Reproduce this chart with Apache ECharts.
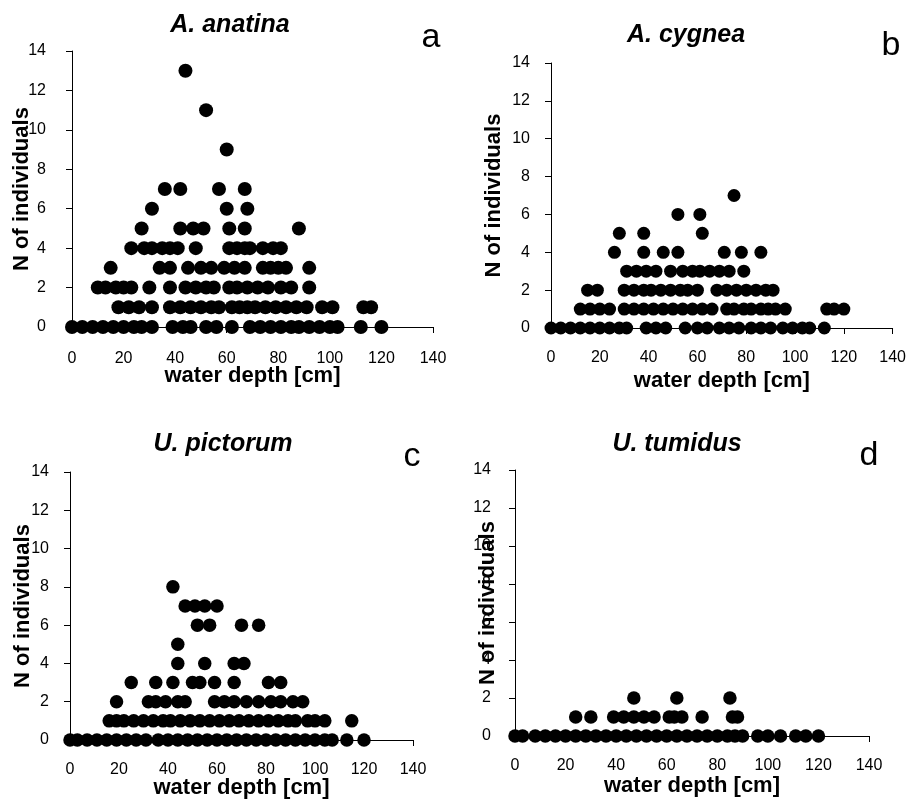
<!DOCTYPE html>
<html>
<head>
<meta charset="utf-8">
<script src="https://cdn.jsdelivr.net/npm/echarts@6/dist/echarts.min.js"></script>
<style>
  html, body { margin: 0; padding: 0; background: #fff; }
  #chart { width: 909px; height: 801px; }
</style>
</head>
<body>
<div id="chart"></div>
<script>
// water depth [cm] of each sample, grouped by N of individuals (index = N)
const anatinaDepths = [
  [0, 4, 8, 12, 16, 20, 24, 27, 31, 39, 43, 46, 52, 56, 62, 69, 73, 77, 81, 85, 88, 92, 96, 100, 103, 112, 120],
  [18, 22, 26, 31, 38, 42, 46, 50, 54, 57, 62, 65, 68, 71, 75, 79, 83, 87, 91, 97, 101, 113, 116],
  [10, 13, 17, 20, 23, 30, 38, 44, 48, 52, 55, 61, 64, 68, 72, 76, 81, 85, 92],
  [15, 34, 38, 45, 50, 54, 59, 63, 67, 74, 77, 80, 83, 92],
  [23, 28, 31, 35, 38, 41, 48, 61, 64, 67, 69, 74, 78, 81],
  [27, 42, 47, 51, 61, 67, 88],
  [31, 60, 68],
  [36, 42, 57, 67],
  [],
  [60],
  [],
  [52],
  [],
  [44]
]
const cygneaDepths = [
  [0, 4, 8, 12, 16, 20, 24, 28, 31, 39, 43, 47, 55, 60, 64, 69, 73, 77, 82, 86, 90, 95, 99, 103, 106, 112],
  [12, 16, 20, 24, 30, 34, 38, 42, 46, 50, 54, 58, 62, 66, 72, 75, 79, 82, 86, 89, 92, 96, 113, 116, 120],
  [15, 19, 30, 34, 38, 41, 45, 49, 53, 56, 60, 68, 72, 76, 80, 84, 88, 91],
  [31, 35, 39, 43, 49, 54, 58, 61, 65, 69, 73, 79],
  [26, 38, 46, 52, 71, 78, 86],
  [28, 38, 62],
  [52, 61],
  [75]
]
const pictorumDepths = [
  [0, 3, 7, 11, 15, 19, 23, 27, 31, 36, 40, 44, 48, 52, 56, 60, 64, 68, 72, 76, 80, 84, 88, 92, 96, 100, 104, 107, 113, 120],
  [16, 19, 22, 26, 30, 34, 38, 41, 45, 49, 53, 57, 61, 65, 69, 73, 77, 81, 85, 89, 92, 97, 100, 104, 115],
  [19, 32, 35, 39, 44, 47, 59, 63, 67, 72, 77, 82, 86, 91, 95],
  [25, 35, 42, 50, 53, 59, 67, 81, 86],
  [44, 55, 67, 71],
  [44],
  [52, 57, 70, 77],
  [47, 51, 55, 60],
  [42]
]
const tumidusDepths = [
  [0, 3, 8, 12, 16, 20, 24, 28, 32, 36, 40, 44, 48, 52, 56, 60, 64, 68, 72, 76, 80, 84, 87, 90, 96, 100, 105, 111, 115, 120],
  [24, 30, 39, 43, 47, 51, 55, 61, 63, 66, 74, 86, 88],
  [47, 64, 85]
]

const species = ['A. anatina', 'A. cygnea', 'U. pictorum', 'U. tumidus']
const panelLetters = ['a', 'b', 'c', 'd']
const xName = 'water depth [cm]'
const yName = 'N of individuals'

const FONT = '"Liberation Sans", Arial, sans-serif'

function toPoints(rows) {
  const pts = []
  rows.forEach((depths, n) => {
    depths.forEach(d => pts.push([d, n]))
  })
  return pts
}

// layout of the four panels
const panels = [
  { data: anatinaDepths, grid: { left: 72, top: 51, width: 361, height: 276 }, yLabelMargin: 26, xLabelMargin: 24, xGap: 38, yGap: 39, size: 14, title: [230, 25], letter: [431, 38] },
  { data: cygneaDepths, grid: { left: 551, top: 63, width: 342, height: 265 }, yLabelMargin: 21, xLabelMargin: 22, xGap: 42, yGap: 46, size: 13, title: [686, 35], letter: [891, 46] },
  { data: pictorumDepths, grid: { left: 70, top: 472, width: 343, height: 268 }, yLabelMargin: 21, xLabelMargin: 22, xGap: 37, yGap: 36, size: 13.5, title: [223, 444], letter: [412, 457] },
  { data: tumidusDepths, grid: { left: 515, top: 470, width: 354, height: 266 }, yLabelMargin: 24, xLabelMargin: 22, xGap: 39, yGap: 16, size: 13.5, title: [677, 444], letter: [869, 456] }
]

const chart = echarts.init(document.getElementById('chart'), null, { renderer: 'canvas' })

const axisLine = { show: true, lineStyle: { color: '#000', width: 1 } }
const axisTick = { show: true, inside: false, length: 6, lineStyle: { color: '#000', width: 1 } }
const labelStyle = { color: '#000', fontSize: 16, fontFamily: FONT }
const nameStyle = { color: '#000', fontSize: 22, fontWeight: 'bold', fontFamily: FONT }

const graphics = []
panels.forEach((p, i) => {
  graphics.push({
    type: 'text',
    x: p.title[0],
    y: p.title[1],
    style: {
      text: species[i],
      fill: '#000',
      font: 'italic bold 25px ' + FONT,
      textAlign: 'center',
      textVerticalAlign: 'middle'
    }
  })
  graphics.push({
    type: 'text',
    x: p.letter[0],
    y: p.letter[1],
    style: {
      text: panelLetters[i],
      fill: '#000',
      font: '34px ' + FONT,
      textAlign: 'center',
      textVerticalAlign: 'middle'
    }
  })
})

chart.setOption({
  backgroundColor: '#fff',
  animation: false,
  grid: panels.map(p => Object.assign({ containLabel: false }, p.grid)),
  xAxis: panels.map((p, i) => ({
    gridIndex: i,
    type: 'value',
    min: 0,
    max: 140,
    interval: 20,
    name: xName,
    nameLocation: 'middle',
    nameGap: p.xGap,
    nameMoveOverlap: false,
    nameTextStyle: nameStyle,
    axisLine: axisLine,
    axisTick: axisTick,
    axisLabel: Object.assign({ margin: p.xLabelMargin }, labelStyle),
    splitLine: { show: false }
  })),
  yAxis: panels.map((p, i) => ({
    gridIndex: i,
    type: 'value',
    min: 0,
    max: 14,
    interval: 2,
    name: yName,
    nameLocation: 'middle',
    nameGap: p.yGap,
    nameMoveOverlap: false,
    nameTextStyle: nameStyle,
    axisLine: axisLine,
    axisTick: axisTick,
    axisLabel: Object.assign({ margin: p.yLabelMargin }, labelStyle),
    splitLine: { show: false }
  })),
  series: panels.map((p, i) => ({
    name: species[i],
    type: 'scatter',
    xAxisIndex: i,
    yAxisIndex: i,
    symbol: 'circle',
    symbolSize: p.size,
    clip: false,
    itemStyle: { color: '#000', opacity: 1 },
    data: toPoints(p.data)
  })),
  graphic: graphics
})
</script>
</body>
</html>
